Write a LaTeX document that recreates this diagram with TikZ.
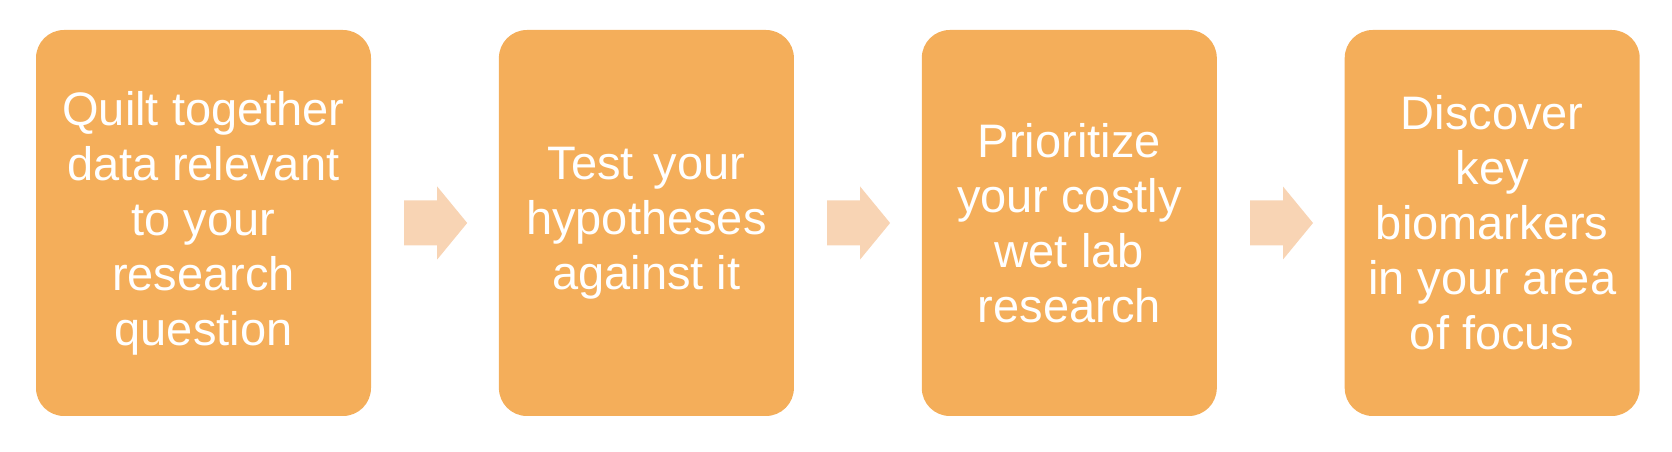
\documentclass[tikz,border=0pt]{standalone}
\usepackage{fontspec}
\setmainfont{Liberation Sans}
\usepackage{xcolor}
\usetikzlibrary{arrows.meta, positioning, calc}

\definecolor{stepfill}{HTML}{F4AE5A}
\definecolor{arrowfill}{HTML}{F8D4B4}

\begin{document}
\begin{tikzpicture}[x=1pt, y=1pt,
    % Step box styles
    stepbox/.style={rectangle, rounded corners=28pt, fill=stepfill, minimum height=386pt,
                    minimum width=295pt, inner sep=0pt, align=center, text=white,
                    font=\fontsize{47}{55}\selectfont},
    widebox/.style={stepbox, minimum width=335pt},
    % Block arrow between boxes
    blockarrow/.style={fill=arrowfill}
]
\useasboundingbox (0,0) rectangle (1672,452);

% Steps
\node[widebox] at (203.5,229) (quilt) {Quilt together\\data relevant\\to your\\research\\question};
\node[stepbox, right=127.5pt of quilt] (test) {Test\hspace{0.43em}your\\hypotheses\\against it};
\node[stepbox, right=127.5pt of test] (prior) {Prioritize\\your costly\\wet lab\\research};
\node[stepbox, right=127.5pt of prior] (disc) {Discover\\key\\biomarkers\\in your area\\of focus};

% Arrows between steps
\foreach \a in {quilt, test, prior} {
    \fill[blockarrow] ([xshift=33pt, yshift=22.5pt]\a.east) -- ++(33,0) -- ++(0,14)
        -- ++(30,-36.5) -- ++(-30,-36.5) -- ++(0,14) -- ++(-33,0) -- cycle;
}

\end{tikzpicture}
\end{document}
